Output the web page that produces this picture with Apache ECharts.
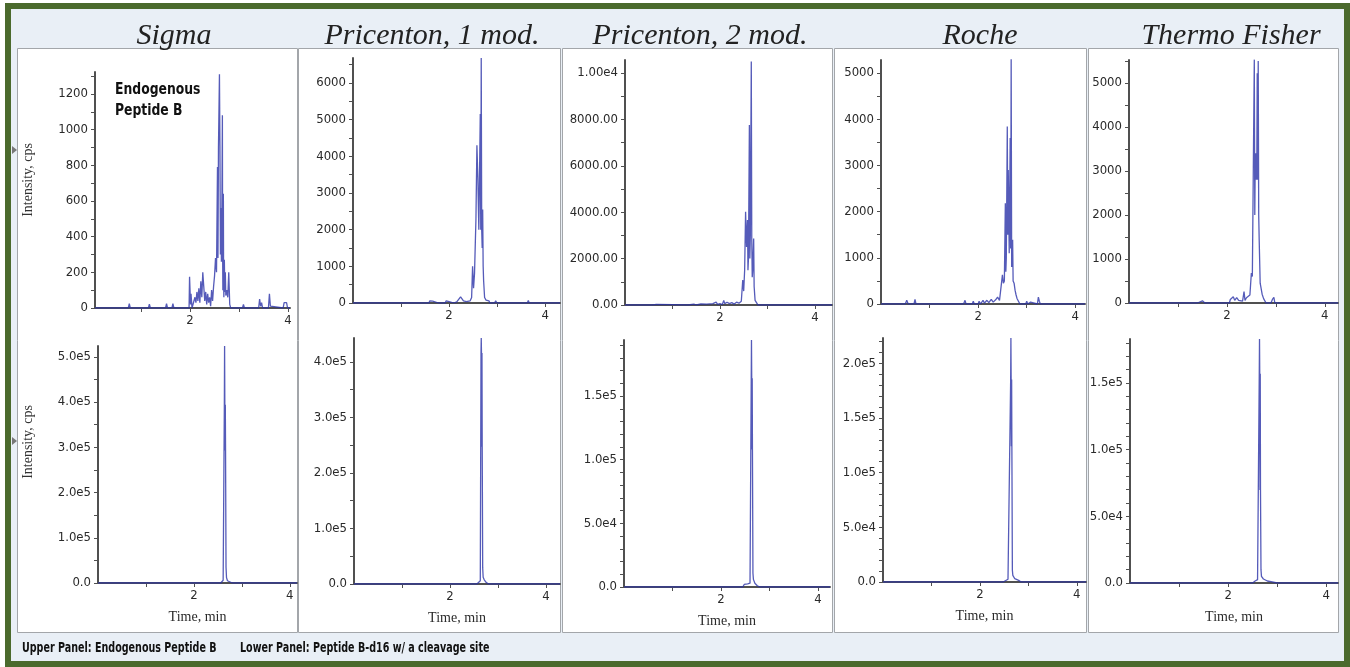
<!DOCTYPE html>
<html>
<head>
<meta charset="utf-8">
<script src="https://cdn.jsdelivr.net/npm/echarts@6/dist/echarts.min.js"></script>
<style>
  html, body { margin: 0; padding: 0; background: #fff; }
  #chart { width: 1350px; height: 667px; }
</style>
</head>
<body>
<div id="chart"></div>
<script>
// column titles (spelling kept as in the figure)
const titles = ['Sigma', 'Pricenton, 1 mod.', 'Pricenton, 2 mod.', 'Roche', 'Thermo Fisher'];

// upper panel: Endogenous Peptide B -- [time (min), intensity (cps)]
const sigmaUpper = [[0.06,0],[0.74,0],[0.76,25],[0.78,0],[1.15,0],[1.17,22],[1.19,0],[1.5,0],[1.52,25],[1.54,0],
  [1.63,0],[1.65,25],[1.67,0],[1.98,0],[1.99,175],[2.01,20],[2.02,80],[2.04,0],[2.08,0],[2.1,60],[2.12,30],
  [2.14,90],[2.16,40],[2.18,110],[2.2,30],[2.22,150],[2.24,60],[2.26,200],[2.28,120],[2.3,40],[2.32,90],
  [2.34,20],[2.36,80],[2.38,30],[2.4,60],[2.42,10],[2.44,100],[2.46,40],[2.48,120],[2.5,180],[2.52,280],
  [2.54,200],[2.56,790],[2.57,280],[2.58,900],[2.6,1310],[2.61,910],[2.62,300],[2.63,560],[2.64,260],[2.65,570],
  [2.66,1080],[2.665,300],[2.67,100],[2.68,640],[2.685,150],[2.69,60],[2.7,270],[2.71,90],[2.72,200],[2.73,70],
  [2.75,100],[2.77,60],[2.79,200],[2.81,20],[2.83,0],[3.07,0],[3.09,20],[3.11,0],[3.4,0],[3.42,50],[3.44,10],
  [3.46,30],[3.48,0],[3.6,0],[3.62,80],[3.64,10],[3.66,0],[3.9,0],[3.92,30],[3.95,30],[3.97,30],[3.99,0],[4.04,0]];
const princeton1Upper = [[0,0],[0.38,0],[0.4,30],[0.42,0],[1.58,0],[1.6,60],[1.62,20],[1.66,50],[1.68,0],
  [1.78,0],[1.8,40],[1.82,0],[1.92,0],[1.94,60],[1.96,20],[2.0,40],[2.02,0],[2.1,0],[2.12,50],[2.16,30],
  [2.2,80],[2.24,170],[2.27,120],[2.3,60],[2.33,100],[2.36,40],[2.4,70],[2.44,60],[2.47,150],[2.49,1000],
  [2.51,400],[2.53,800],[2.56,2300],[2.58,4300],[2.6,3400],[2.62,2000],[2.63,3000],[2.65,5150],[2.66,2000],
  [2.67,6680],[2.68,2000],[2.69,1500],[2.7,2550],[2.71,1000],[2.72,600],[2.74,150],[2.77,80],[2.8,30],
  [2.83,60],[2.85,0],[2.95,0],[2.97,60],[3.0,0],[3.25,0],[3.27,40],[3.29,0],[3.47,0],[3.49,30],[3.51,0],
  [3.63,0],[3.65,70],[3.67,0],[4.31,0]];
const princeton2Upper = [[0,0],[0.58,0],[0.6,40],[0.62,0],[0.66,30],[0.68,0],[1.33,0],[1.35,60],[1.37,0],
  [1.45,40],[1.5,0],[1.6,50],[1.62,0],[1.72,40],[1.75,0],[1.85,60],[1.88,0],[1.92,120],[1.95,30],[2.0,60],
  [2.05,20],[2.08,200],[2.1,60],[2.15,120],[2.2,60],[2.25,100],[2.3,40],[2.35,120],[2.4,80],[2.45,160],
  [2.48,1080],[2.5,600],[2.52,1500],[2.54,4020],[2.56,2500],[2.58,3660],[2.59,1500],[2.6,2000],[2.62,7760],
  [2.63,2000],[2.64,3000],[2.66,10500],[2.67,2870],[2.68,1200],[2.69,1500],[2.71,2870],[2.72,800],[2.74,200],
  [2.77,100],[2.8,0],[2.93,0],[2.95,80],[2.97,0],[3.22,0],[3.25,50],[3.27,0],[3.5,0],[3.52,40],[3.54,0],
  [3.8,0],[3.82,60],[3.84,0],[4.36,0]];
const rocheUpper = [[0,0],[0.5,0],[0.53,80],[0.56,0],[0.68,0],[0.7,100],[0.72,0],[1.7,0],[1.73,80],[1.75,0],
  [1.88,0],[1.9,60],[1.92,0],[2.0,0],[2.02,60],[2.05,0],[2.1,80],[2.13,20],[2.18,80],[2.22,30],[2.27,100],
  [2.31,40],[2.36,90],[2.4,150],[2.44,80],[2.47,100],[2.5,630],[2.52,450],[2.54,500],[2.56,2180],[2.57,700],
  [2.58,1000],[2.6,3840],[2.61,1500],[2.62,2900],[2.64,1100],[2.66,3590],[2.67,1200],[2.68,5320],[2.69,800],
  [2.7,1100],[2.71,1390],[2.72,500],[2.74,450],[2.76,300],[2.78,200],[2.8,120],[2.83,80],[2.86,0],[2.98,0],
  [3.0,60],[3.02,0],[3.08,40],[3.1,0],[3.22,0],[3.24,150],[3.26,60],[3.28,0],[3.6,0],[3.62,30],[3.64,0],[4.2,0]];
const thermoUpper = [[0,0],[1.35,0],[1.38,40],[1.4,0],[1.5,50],[1.53,90],[1.55,0],[1.9,0],[1.93,40],[1.96,0],
  [2.05,0],[2.07,80],[2.1,40],[2.13,140],[2.16,60],[2.2,120],[2.24,60],[2.28,100],[2.32,40],[2.35,260],
  [2.37,60],[2.4,120],[2.44,80],[2.47,180],[2.5,680],[2.52,600],[2.54,3060],[2.56,5530],[2.57,2000],
  [2.58,3400],[2.59,2800],[2.6,3400],[2.61,2800],[2.62,5220],[2.63,2800],[2.64,5500],[2.65,2000],[2.66,1430],
  [2.67,1430],[2.68,450],[2.7,450],[2.72,200],[2.75,100],[2.78,60],[2.8,0],[2.9,0],[2.93,80],[2.96,130],
  [2.98,0],[3.24,0],[3.26,30],[3.28,0],[3.7,0],[3.72,20],[3.74,0],[4.27,0]];

// lower panel: Peptide B-d16 w/ a cleavage site
const sigmaLower = [[0,0],[2.56,0],[2.59,2000],[2.61,6000],[2.63,8000],[2.635,394000],[2.64,524000],
  [2.645,394000],[2.65,293000],[2.655,394000],[2.66,293000],[2.665,293000],[2.67,35000],[2.675,35000],
  [2.68,12000],[2.7,5000],[2.74,3000],[2.8,0],[4.15,0]];
const princeton1Lower = [[0,0],[2.56,0],[2.6,3000],[2.63,6000],[2.645,416000],[2.65,443000],[2.655,416000],
  [2.66,247000],[2.665,416000],[2.67,247000],[2.675,247000],[2.68,29000],[2.685,29000],[2.69,12000],
  [2.71,8000],[2.75,3000],[2.8,0],[4.29,0]];
const princeton2Lower = [[0,0],[2.18,0],[2.2,1500],[2.22,0],[2.45,0],[2.48,2000],[2.55,2500],[2.6,3000],
  [2.625,164000],[2.63,194000],[2.635,164000],[2.64,108000],[2.645,164000],[2.65,108000],[2.655,108000],
  [2.66,11000],[2.665,11000],[2.67,6000],[2.7,3000],[2.75,1000],[2.8,0],[4.25,0]];
const rocheLower = [[0,0],[2.48,0],[2.52,1500],[2.58,2500],[2.62,3000],[2.635,185000],[2.64,223000],
  [2.645,185000],[2.65,124000],[2.655,185000],[2.66,124000],[2.665,124000],[2.67,11000],[2.675,11000],
  [2.68,6000],[2.72,3000],[2.8,1500],[2.85,0],[4.19,0]];
const thermoLower = [[0,0],[2.5,0],[2.55,1500],[2.6,2500],[2.635,157000],[2.64,183000],[2.645,157000],
  [2.65,69800],[2.655,157000],[2.66,69800],[2.665,69800],[2.67,10000],[2.675,10000],[2.68,5000],
  [2.72,3000],[2.8,1500],[2.9,800],[3.0,0],[4.24,0]];

// tick labels
const xTickValues = [1, 2, 3, 4];
const xLabelValues = [2, 4];
const upperYLabels = [
  [0, 200, 400, 600, 800, 1000, 1200],
  [0, 1000, 2000, 3000, 4000, 5000, 6000],
  [0, 2000, 4000, 6000, 8000, 10000],
  [0, 1000, 2000, 3000, 4000, 5000],
  [0, 1000, 2000, 3000, 4000, 5000]
];
const lowerYLabels = [
  [0, 100000, 200000, 300000, 400000, 500000],
  [0, 100000, 200000, 300000, 400000],
  [0, 50000, 100000, 150000],
  [0, 50000, 100000, 150000, 200000],
  [0, 50000, 100000, 150000]
];

const upperData = [sigmaUpper, princeton1Upper, princeton2Upper, rocheUpper, thermoUpper];
const lowerData = [sigmaLower, princeton1Lower, princeton2Lower, rocheLower, thermoLower];

// layout of each plot: left, top, right, bottom (px), x min, x max, y max, minor y step
const upperBoxes = [
  [95, 72, 290, 308, 0.06, 4.04, 1323, 100],
  [353, 58, 560, 303, 0, 4.31, 6680, 500],
  [625, 60, 832, 305, 0, 4.36, 10560, 1000],
  [881, 60, 1085, 304, 0, 4.2, 5280, 500],
  [1129, 60, 1338, 303, 0, 4.27, 5520, 500]
];
const lowerBoxes = [
  [98, 346, 297, 583, 0, 4.15, 524000, 50000],
  [354, 338, 560, 584, 0, 4.29, 443000, 50000],
  [624, 340, 830, 587, 0, 4.25, 194000, 10000],
  [883, 338, 1086, 582, 0, 4.19, 223000, 10000],
  [1130, 339, 1338, 583, 0, 4.24, 183000, 10000]
];
const panelX = [[17, 297], [298, 560], [562, 832], [834, 1086], [1088, 1338]];
const titleX = [174, 432, 700, 980, 1231];

const axisColor = '#505050';
const labelFont = "'DejaVu Sans Condensed', 'DejaVu Sans', sans-serif";
const serifFont = "'Liberation Serif', 'DejaVu Serif', serif";
const boldNarrow = "'DejaVu Sans Condensed', 'DejaVu Sans', sans-serif";

function sci(v) {
  if (v === 0) return '0.0';
  const e = Math.floor(Math.log10(v) + 1e-9);
  return (v / Math.pow(10, e)).toFixed(1) + 'e' + e;
}

const grid = [], xAxis = [], yAxis = [], series = [];

function addPlot(box, data, yLabels, fmt, showTime) {
  const i = grid.length;
  const [l, t, r, b, xMin, xMax, yMax, minor] = box;
  const yTicks = [];
  for (let v = 0; v <= yMax; v += minor) yTicks.push(v);
  grid.push({ left: l, top: t, width: r - l, height: b - t });
  xAxis.push({
    gridIndex: i, type: 'value', min: xMin, max: xMax,
    axisLine: { lineStyle: { color: axisColor, width: 2 } },
    axisTick: { customValues: xTickValues, length: 4, lineStyle: { color: axisColor } },
    axisLabel: { customValues: xLabelValues, color: '#2a2a2a', fontFamily: labelFont, fontSize: 13, margin: 6 },
    splitLine: { show: false },
    name: showTime ? 'Time, min' : '', nameLocation: 'middle', nameGap: 27,
    nameTextStyle: { color: '#2a2a2a', fontFamily: serifFont, fontSize: 14 }
  });
  yAxis.push({
    gridIndex: i, type: 'value', min: 0, max: yMax,
    axisLine: { show: true, lineStyle: { color: axisColor, width: 2 } },
    axisTick: { customValues: yTicks, length: 4, lineStyle: { color: axisColor } },
    axisLabel: { customValues: yLabels, formatter: fmt, color: '#2a2a2a', fontFamily: labelFont, fontSize: 13, margin: 7 },
    splitLine: { show: false }
  });
  series.push({
    type: 'line', xAxisIndex: i, yAxisIndex: i, data: data,
    showSymbol: false, silent: true, animation: false,
    lineStyle: { width: 1.3, color: 'rgba(42, 50, 168, 0.8)' }
  });
}

for (let k = 0; k < 5; k++) {
  const fmt = k === 2 ? (v => v >= 10000 ? '1.00e4' : v.toFixed(2)) : (v => String(v));
  addPlot(upperBoxes[k], upperData[k], upperYLabels[k], fmt, false);
}
for (let k = 0; k < 5; k++) {
  addPlot(lowerBoxes[k], lowerData[k], lowerYLabels[k], sci, true);
}

const graphic = [
  { type: 'rect', z: -20, shape: { x: 8, y: 6, width: 1339, height: 658 },
    style: { fill: '#e9eff6', stroke: '#4b6a2d', lineWidth: 6 } }
];
panelX.forEach(([a, c]) => {
  graphic.push({ type: 'rect', z: -10, shape: { x: a + 0.5, y: 48.5, width: c - a, height: 584 },
    style: { fill: '#fff', stroke: '#a3a6aa', lineWidth: 1 } });
});
titles.forEach((s, k) => {
  graphic.push({ type: 'text', z: 10, x: titleX[k], y: 36,
    style: { text: s, fill: '#222', font: 'italic 30px ' + serifFont, textAlign: 'center', textVerticalAlign: 'middle' } });
});
graphic.push(
  { type: 'text', z: 10, x: 115, y: 79, scaleX: 0.86,
    style: { text: 'Endogenous\nPeptide B', fill: '#111', font: 'bold 16px ' + boldNarrow, lineHeight: 21, textVerticalAlign: 'top' } },
  { type: 'text', z: 10, x: 28, y: 180, rotation: Math.PI / 2,
    style: { text: 'Intensity, cps', fill: '#333', font: '14px ' + serifFont, textAlign: 'center', textVerticalAlign: 'middle' } },
  { type: 'text', z: 10, x: 28, y: 442, rotation: Math.PI / 2,
    style: { text: 'Intensity, cps', fill: '#333', font: '14px ' + serifFont, textAlign: 'center', textVerticalAlign: 'middle' } },
  { type: 'text', z: 10, x: 22, y: 648, scaleX: 0.76,
    style: { text: 'Upper Panel: Endogenous Peptide B', fill: '#111', font: 'bold 14px ' + boldNarrow, textVerticalAlign: 'middle' } },
  { type: 'text', z: 10, x: 240, y: 648, scaleX: 0.76,
    style: { text: 'Lower Panel: Peptide B-d16 w/ a cleavage site', fill: '#111', font: 'bold 14px ' + boldNarrow, textVerticalAlign: 'middle' } },
  { type: 'polygon', z: 10, shape: { points: [[12, 146], [17, 150], [12, 154]] }, style: { fill: '#777' } },
  { type: 'polygon', z: 10, shape: { points: [[12, 437], [17, 441], [12, 445]] }, style: { fill: '#777' } }
);

const chart = echarts.init(document.getElementById('chart'), null, { renderer: 'canvas' });
chart.setOption({
  backgroundColor: '#ffffff',
  animation: false,
  grid: grid,
  xAxis: xAxis,
  yAxis: yAxis,
  series: series,
  graphic: graphic
});
</script>
</body>
</html>
